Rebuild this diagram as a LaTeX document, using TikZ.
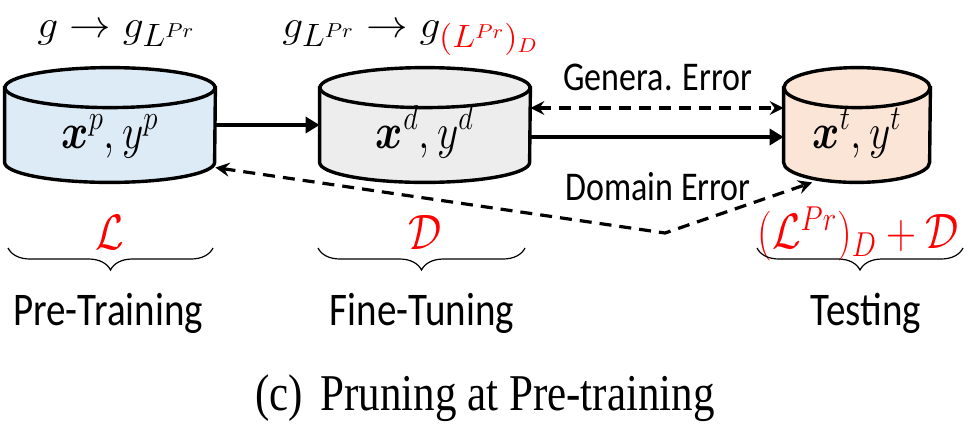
\documentclass[tikz,border=0pt]{standalone}
\usepackage{fontspec}
\setmainfont{Liberation Serif}
\setsansfont{Carlito}
\usepackage{amsmath}
\usepackage{bm}
\usepackage{graphicx}
\usetikzlibrary{arrows.meta, positioning, backgrounds, decorations.pathreplacing}
\definecolor{preBlue}{HTML}{DDEBF7}
\definecolor{fineGray}{HTML}{EDEDED}
\definecolor{testPeach}{HTML}{FBE5D6}
\definecolor{lossRed}{HTML}{FF0000}
\newcommand{\tall}[1]{\scalebox{1}[1.2]{#1}}
\newcommand{\wide}[1]{\scalebox{1.2}[1.12]{#1}}
% text sitting low in a cylinder, baseline 11.5pt under the centre
\newcommand{\dbtext}[1]{\raisebox{-11.5pt}[0pt][0pt]{\tall{#1}}}
% cylinder behind a data node: #1 node, #2 fill, #3 half width
\newcommand{\dbcyl}[3]{%
  \draw[dbline, fill=#2] ([yshift=-10pt]#1.north west) -- ([yshift=10pt]#1.south west)
    arc[start angle=180, end angle=360, x radius=#3, y radius=10pt]
    -- ([yshift=-10pt]#1.north east) -- cycle;
  \draw[dbline, fill=#2] ([yshift=-10pt]#1.north) ellipse[x radius=#3, y radius=10pt];
}
\tikzset{
  dbase/.style={rectangle, minimum width=105pt, minimum height=57pt,
                inner sep=0pt, font=\fontsize{21}{26}\selectfont},
  dbline/.style={line width=1.7pt},
  solidArrow/.style={-{Triangle[length=7pt, width=8pt]}, line width=1.8pt},
  dashArrow/.style={{Stealth[length=7pt, width=7pt, inset=2.5pt]}-{Stealth[length=7pt, width=7pt, inset=2.5pt]},
                    line width=1.6pt, dash pattern=on 6pt off 4pt},
  stageBrace/.style={decorate, decoration={brace, mirror, amplitude=11pt}, line width=0.6pt},
  stageLabel/.style={font=\sffamily\fontsize{19.5}{22}\selectfont, inner sep=0pt},
  errLabel/.style={font=\sffamily\fontsize{17}{20}\selectfont, inner sep=0pt},
  mathLabel/.style={font=\fontsize{19}{23}\selectfont, inner sep=0pt},
  lossLabel/.style={text=lossRed, inner sep=0pt, font=\fontsize{22}{26}\selectfont},
}

\begin{document}
\begin{tikzpicture}[x=0.5pt, y=-0.5pt]
  \useasboundingbox (0,0) rectangle (969,430);

  % models
  \node[mathLabel, anchor=base west] (gpre) at (37,37) {\wide{$g \rightarrow g_{L^{Pr}}$}};
  \node[mathLabel, anchor=base west] (gfine) at (282,37)
    {\wide{$g_{L^{Pr}} \rightarrow g_{\color{lossRed}(L^{Pr})_D}$}};

  % data sets
  \node[dbase] (pre) at (110,125) {\dbtext{$\bm{x}^p, y^p$}};
  \node[dbase] (fine) at (425,125) {\dbtext{$\bm{x}^d, y^d$}};
  \node[dbase, minimum width=73pt] (test) at (857,125) {\dbtext{$\bm{x}^t, y^t$}};
  \begin{scope}[on background layer]
    \dbcyl{pre}{preBlue}{52.5pt}
    \dbcyl{fine}{fineGray}{52.5pt}
    \dbcyl{test}{testPeach}{36.5pt}
  \end{scope}

  % flows
  \draw[solidArrow] (pre) -- (fine);
  \draw[solidArrow] ([yshift=-6pt]fine.east) coordinate (s1) -- (s1 -| test.west);
  \draw[dashArrow] ([yshift=8.5pt]fine.east) coordinate (g1) -- (g1 -| test.west);
  \coordinate (kink) at (665,233);
  \draw[dashArrow] (pre.-22) -- (kink) -- (test.-128);
  \node[errLabel] (generr) at (658,77) {\tall{Genera. Error}};
  \node[errLabel] (domerr) at (658,187) {\tall{Domain Error}};

  % losses
  \node[lossLabel] (lpre) at (110,232) {\tall{$\mathcal{L}$}};
  \node[lossLabel] (lfine) at (425,232) {\tall{$\mathcal{D}$}};
  \node[lossLabel, font=\fontsize{20}{24}\selectfont] (ltest) at (858,234)
    {\tall{$(\mathcal{L}^{Pr})_D + \mathcal{D}$}};

  % stages
  \draw[stageBrace] (8,248) -- (213,248);
  \draw[stageBrace] (318,248) -- (525,248);
  \draw[stageBrace] (757,248) -- (963,248);
  \node[stageLabel] (spre) at (108,313) {\tall{Pre-Training}};
  \node[stageLabel] (sfine) at (422,313) {\tall{Fine-Tuning}};
  \node[stageLabel] (stest) at (866,313) {\tall{Testing}};

  \node[font=\rmfamily\fontsize{21.5}{26}\selectfont, anchor=base] (cap) at (485,410)
    {\tall{(c)\hspace{0.4em}Pruning at Pre-training}};
\end{tikzpicture}
\end{document}
